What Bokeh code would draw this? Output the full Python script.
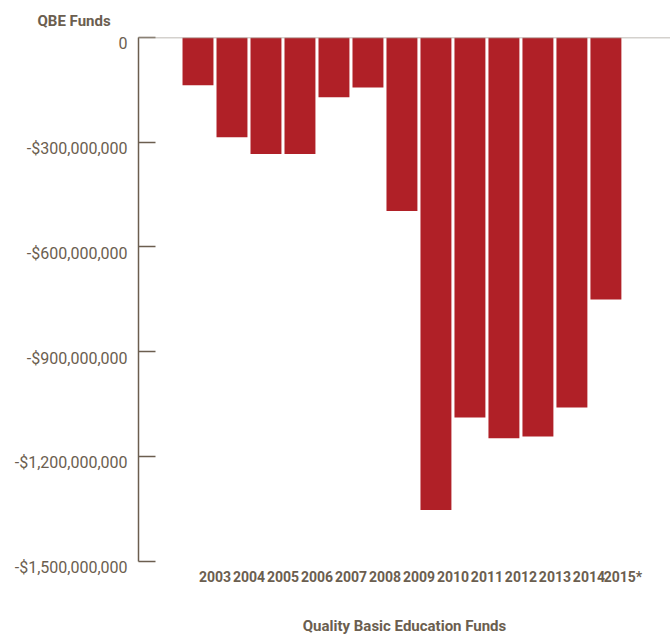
from bokeh.plotting import figure
from bokeh.models import Range1d, FixedTicker, Span, Title, ColumnDataSource, LinearAxis
from bokeh.embed import file_html
from bokeh.resources import INLINE

years = ["2003", "2004", "2005", "2006", "2007", "2008", "2009",
         "2010", "2011", "2012", "2013", "2014", "2015*"]
qbe_funds = [-137e6, -286e6, -334e6, -334e6, -171e6, -143e6, -497e6,
             -1354e6, -1089e6, -1148e6, -1143e6, -1060e6, -751e6]
y_ticks = [0, -300e6, -600e6, -900e6, -1200e6, -1500e6]
y_tick_labels = ["0", "-$300,000,000", "-$600,000,000", "-$900,000,000",
                 "-$1,200,000,000", "-$1,500,000,000"]

TEXT = "#6b5e4f"
FONT = "Roboto"

Y_MIN, Y_MAX = -1.5e9, 0.0
# labels sit ~6.5px below their ticks; the frame runs that far past the last tick
shift = 6.5 * (Y_MAX - Y_MIN) / 525.0
X0, X1 = -1.75, 13.9
idx = list(range(len(years)))
src = ColumnDataSource(dict(x=idx, top=[0] * len(idx), bottom=qbe_funds, year=years))

p = figure(width=670, height=637, output_backend="svg", toolbar_location=None,
           x_range=Range1d(X0, X1), y_range=Range1d(Y_MIN - shift, Y_MAX),
           min_border_left=138, min_border_right=0, min_border_top=37,
           min_border_bottom=68)
p.outline_line_color = None
p.xgrid.grid_line_color = None
p.ygrid.grid_line_color = None

p.vbar(x="x", top="top", bottom="bottom", width=0.91, source=src,
       fill_color="#b02027", line_color=None)

p.add_layout(Span(location=0, dimension="width", line_color="#a9a49b", line_width=1.5))

# main y axis: line and inward ticks only, line limited to the tick span
ya = p.yaxis[0]
ya.ticker = FixedTicker(ticks=y_ticks)
ya.bounds = (Y_MIN, Y_MAX)
ya.major_label_overrides = {t: "" for t in y_ticks}
ya.minor_tick_line_color = None
ya.major_tick_in = 17
ya.major_tick_out = 0
ya.axis_line_color = TEXT
ya.axis_line_width = 1.5
ya.major_tick_line_color = TEXT
ya.major_tick_line_width = 1.5
ya.major_label_standoff = 0

# label axis: same scale, nudged so each label sits just below its tick
p.extra_y_ranges = {"lab": Range1d(Y_MIN, Y_MAX + shift)}
lab_axis = LinearAxis(y_range_name="lab", ticker=FixedTicker(ticks=y_ticks))
lab_axis.major_label_overrides = {t: l for t, l in zip(y_ticks, y_tick_labels)}
lab_axis.axis_line_color = None
lab_axis.major_tick_line_color = None
lab_axis.minor_tick_line_color = None
lab_axis.major_tick_in = 0
lab_axis.major_tick_out = 0
lab_axis.major_label_standoff = 11
lab_axis.major_label_text_font = FONT
lab_axis.major_label_text_font_size = "16px"
lab_axis.major_label_text_color = TEXT
p.add_layout(lab_axis, "left")

# x axis
xa = p.xaxis[0]
xa.ticker = FixedTicker(ticks=[i + 0.5 for i in idx])
xa.major_label_overrides = {i + 0.5: y for i, y in zip(idx, years)}
xa.axis_line_color = None
xa.major_tick_line_color = None
xa.major_tick_out = 0
xa.major_tick_in = 0
xa.minor_tick_line_color = None
xa.major_label_text_font = FONT
xa.major_label_text_font_style = "bold"
xa.major_label_text_font_size = "14px"
xa.major_label_text_color = TEXT
xa.major_label_standoff = 1
xa.axis_label = "Quality Basic Education Funds"
xa.axis_label_text_font = FONT
xa.axis_label_text_font_size = "15px"
xa.axis_label_text_font_style = "bold"
xa.axis_label_text_color = TEXT
xa.axis_label_standoff = 29

p.add_layout(Title(text="QBE Funds", align="left", offset=-101,
                   text_font=FONT, text_font_size="15px", text_font_style="bold",
                   text_color=TEXT, standoff=16), "above")

open("out.html", "w").write(file_html(p, INLINE))
